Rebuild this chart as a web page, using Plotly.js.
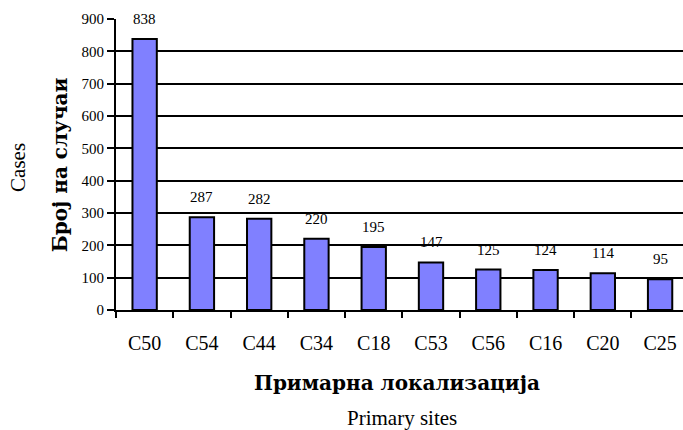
<!DOCTYPE html>
<html>
<head>
<meta charset="utf-8">
<script src="https://cdn.plot.ly/plotly-3.0.1.min.js"></script>
<style>
  html, body { margin: 0; padding: 0; background: #fff; }
  #chart { width: 683px; height: 430px; }
</style>
</head>
<body>
<div id="chart"></div>
<script>
var sites = ['C50', 'C54', 'C44', 'C34', 'C18', 'C53', 'C56', 'C16', 'C20', 'C25'];
var cases = [838, 287, 282, 220, 195, 147, 125, 124, 114, 95];
var yTicks = [0, 100, 200, 300, 400, 500, 600, 700, 800, 900];

var serif = 'Liberation Serif, Times New Roman, serif';
var boldSerif = 'DejaVu Serif, serif';

var trace = {
  x: sites,
  y: cases,
  type: 'bar',
  marker: {
    color: '#8080ff',
    line: { color: '#000', width: 2 }
  }
};

// value labels above each bar
var notes = sites.map(function (s, i) {
  return {
    x: s, y: cases[i], xref: 'x', yref: 'y',
    text: String(cases[i]), showarrow: false,
    yanchor: 'bottom', yshift: 10,
    font: { family: serif, size: 15, color: '#000' }
  };
});

// axis titles: bold Macedonian line + English line
notes.push({
  xref: 'paper', yref: 'paper', x: 0.496, y: -0.251,
  text: '<b>Примарна локализација</b>', showarrow: false,
  xanchor: 'center', yanchor: 'middle',
  font: { family: boldSerif, size: 20, color: '#000' }
});
notes.push({
  xref: 'paper', yref: 'paper', x: 0.505, y: -0.372,
  text: 'Primary sites', showarrow: false,
  xanchor: 'center', yanchor: 'middle',
  font: { family: serif, size: 21, color: '#000' }
});
notes.push({
  xref: 'paper', yref: 'paper', x: -0.099, y: 0.5,
  text: '<b>Број на случаи</b>', textangle: -90, showarrow: false,
  xanchor: 'center', yanchor: 'middle',
  font: { family: boldSerif, size: 20, color: '#000' }
});
notes.push({
  xref: 'paper', yref: 'paper', x: -0.172, y: 0.49,
  text: 'Cases', textangle: -90, showarrow: false,
  xanchor: 'center', yanchor: 'middle',
  font: { family: serif, size: 21, color: '#000' }
});

var layout = {
  width: 683,
  height: 430,
  margin: { l: 116, r: 0, t: 19, b: 120 },
  paper_bgcolor: '#fff',
  plot_bgcolor: '#fff',
  showlegend: false,
  bargap: 0.575,
  font: { family: serif, color: '#000' },
  xaxis: {
    range: [-0.5, 9.4],
    tickson: 'boundaries',
    ticks: 'outside',
    ticklen: 6,
    tickwidth: 2,
    tickcolor: '#000',
    ticklabelstandoff: 14,
    showline: true,
    linecolor: '#000',
    linewidth: 2,
    showgrid: false,
    tickfont: { family: serif, size: 20, color: '#000' }
  },
  yaxis: {
    range: [0, 900],
    tickvals: yTicks,
    ticks: 'outside',
    ticklen: 7,
    tickwidth: 2,
    tickcolor: '#000',
    showline: true,
    linecolor: '#000',
    linewidth: 2,
    showgrid: true,
    gridcolor: '#000',
    gridwidth: 2,
    zeroline: false,
    tickfont: { family: serif, size: 15, color: '#000' }
  },
  annotations: notes
};

Plotly.newPlot('chart', [trace], layout, { displayModeBar: false, staticPlot: true });
</script>
</body>
</html>
